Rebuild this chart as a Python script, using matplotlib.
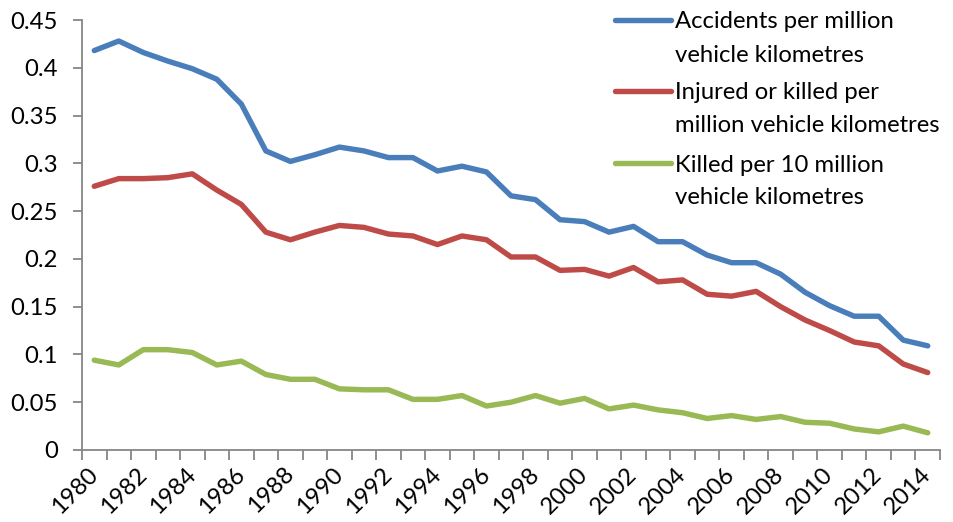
import matplotlib
matplotlib.use("Agg")
import matplotlib.pyplot as plt
from matplotlib.lines import Line2D
from matplotlib.ticker import FuncFormatter
from matplotlib.transforms import ScaledTranslation
import numpy as np

years = list(range(1980, 2015))

accidents = [0.418, 0.428, 0.416, 0.407, 0.399, 0.388, 0.362, 0.313, 0.302, 0.309,
             0.317, 0.313, 0.306, 0.306, 0.292, 0.297, 0.291, 0.266, 0.262, 0.241,
             0.239, 0.228, 0.234, 0.218, 0.218, 0.204, 0.196, 0.196, 0.184, 0.165,
             0.151, 0.140, 0.140, 0.115, 0.109]
injured = [0.276, 0.284, 0.284, 0.285, 0.289, 0.272, 0.257, 0.228, 0.220, 0.228,
           0.235, 0.233, 0.226, 0.224, 0.215, 0.224, 0.220, 0.202, 0.202, 0.188,
           0.189, 0.182, 0.191, 0.176, 0.178, 0.163, 0.161, 0.166, 0.150, 0.136,
           0.125, 0.113, 0.109, 0.090, 0.081]
killed = [0.094, 0.089, 0.105, 0.105, 0.102, 0.089, 0.093, 0.079, 0.074, 0.074,
          0.064, 0.063, 0.063, 0.053, 0.053, 0.057, 0.046, 0.050, 0.057, 0.049,
          0.054, 0.043, 0.047, 0.042, 0.039, 0.033, 0.036, 0.032, 0.035, 0.029,
          0.028, 0.022, 0.019, 0.025, 0.018]

labels = ["Accidents per million\nvehicle kilometres",
          "Injured or killed per\nmillion vehicle kilometres",
          "Killed per 10 million\nvehicle kilometres"]
colors = ["#4A7EBB", "#BE4B48", "#98B954"]

plt.rcParams["font.family"] = ["Lato", "DejaVu Sans"]
FS = 17.2
AXIS = "#868686"

fig = plt.figure(figsize=(9.54, 5.22), dpi=100)
W, H = 954, 522
ax = fig.add_axes([82 / W, (H - 450) / H, (940 - 82) / W, (450 - 20) / H])

x = np.arange(len(years))
for series, c in zip([accidents, injured, killed], colors):
    ax.plot(x, series, color=c, lw=3.9, solid_capstyle="round", solid_joinstyle="round")

ax.set_xlim(-0.5, len(years) - 0.5)
ax.set_ylim(0, 0.45)
ax.set_yticks(np.arange(0, 0.451, 0.05))
ax.yaxis.set_major_formatter(FuncFormatter(lambda v, p: f"{v:.2f}".rstrip("0").rstrip(".") if v else "0"))

# year labels every 2 years, tick marks at category boundaries
ax.set_xticks(x[::2])
ax.set_xticklabels([str(y) for y in years[::2]], rotation=45, ha="right", va="center",
                   rotation_mode="anchor")
shift = ScaledTranslation(5 / 100, 0, fig.dpi_scale_trans)
for lbl in ax.get_xticklabels():
    lbl.set_transform(lbl.get_transform() + shift)
ax.set_xticks(np.arange(-0.5, len(years), 1), minor=True)
ax.tick_params(axis="x", which="major", length=0, pad=15, labelsize=FS)
ax.tick_params(axis="x", which="minor", length=7.5, width=1.3, color=AXIS, direction="out")
ax.tick_params(axis="y", length=6.5, width=1.3, color=AXIS, pad=11, labelsize=FS)

for s in ["top", "right"]:
    ax.spines[s].set_visible(False)
for s in ["left", "bottom"]:
    ax.spines[s].set_color(AXIS)
    ax.spines[s].set_linewidth(1.3)

# legend drawn at top right, handle aligned with first text line
handle_y = [20, 91, 163]
for lab, c, hy in zip(labels, colors, handle_y):
    fig.add_artist(Line2D([615 / W, 671 / W], [1 - hy / H, 1 - hy / H], color=c, lw=3.9,
                          solid_capstyle="round", transform=fig.transFigure))
    for i, line in enumerate(lab.split("\n")):
        fig.text(675 / W, 1 - (hy + 8.5 + 33 * i) / H, line, fontsize=FS, va="baseline",
                 ha="left", color="black")

fig.savefig("out.png", dpi=100)
